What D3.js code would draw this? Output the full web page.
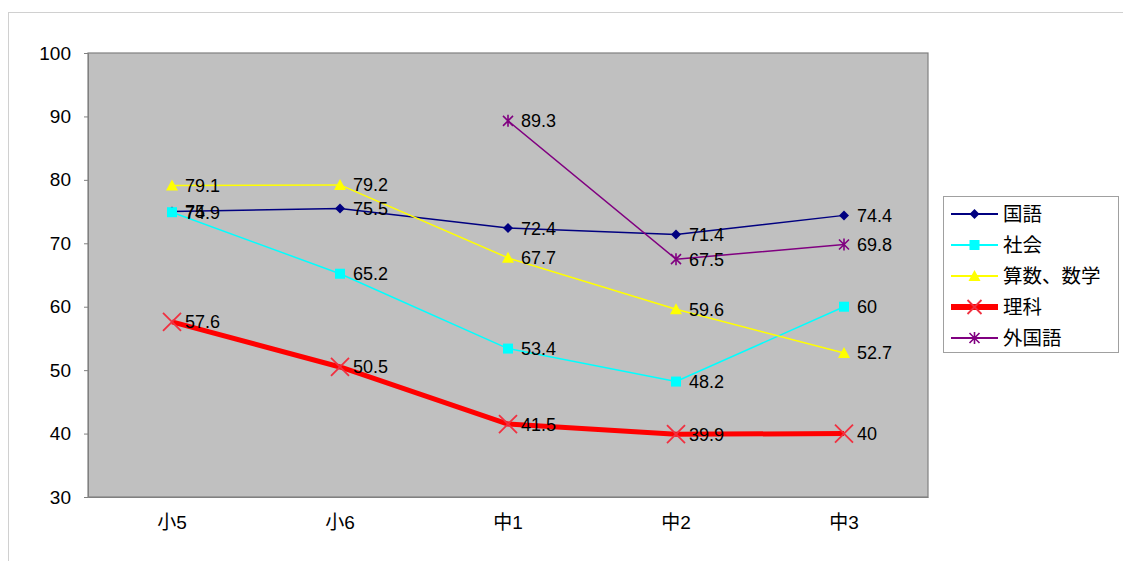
<!DOCTYPE html>
<html><head><meta charset="utf-8">
<script src="https://cdn.jsdelivr.net/npm/d3@7"></script>
<style>
html,body{margin:0;padding:0;background:#fff;}
svg{display:block;}
text{font-family:"Liberation Sans","Noto Sans CJK JP",sans-serif;fill:#000;}
</style></head>
<body>
<svg id="chart" width="1123" height="561"></svg>
<script>
// Grades and subject averages
const grades = ["小5", "小6", "中1", "中2", "中3"];
const kokugo = [75, 75.5, 72.4, 71.4, 74.4];
const shakai = [74.9, 65.2, 53.4, 48.2, 60];
const sansu = [79.1, 79.2, 67.7, 59.6, 52.7];
const rika = [57.6, 50.5, 41.5, 39.9, 40];
const gaikokugo = [null, null, 89.3, 67.5, 69.8];
const yTicks = [30, 40, 50, 60, 70, 80, 90, 100];

const series = [
  { name: "国語", values: kokugo, color: "#000080", width: 1.5, marker: "diamond" },
  { name: "社会", values: shakai, color: "#00ffff", width: 1.5, marker: "square" },
  { name: "算数、数学", values: sansu, color: "#ffff00", width: 1.5, marker: "triangle" },
  { name: "理科", values: rika, color: "#ff0000", width: 5, marker: "x" },
  { name: "外国語", values: gaikokugo, color: "#800080", width: 1.5, marker: "star" }
];

const svg = d3.select("#chart");
const plot = { left: 88, top: 53, right: 928, bottom: 497 };

// outer chart frame
svg.append("rect").attr("x", 8.5).attr("y", 12.5).attr("width", 1125).attr("height", 560)
  .attr("fill", "#fff").attr("stroke", "#d0d0d0").attr("stroke-width", 1);

const x = d3.scaleBand().domain(grades).range([plot.left, plot.right]);
const y = d3.scaleLinear().domain([30, 100]).range([plot.bottom, plot.top]);
const cx = g => x(g) + x.bandwidth() / 2;

// plot area
svg.append("rect").attr("x", plot.left).attr("y", plot.top)
  .attr("width", plot.right - plot.left).attr("height", plot.bottom - plot.top)
  .attr("fill", "#c0c0c0").attr("stroke", "#808080").attr("stroke-width", 1.2);

// axes
const yAxis = svg.append("g").attr("transform", `translate(${plot.left},0)`)
  .call(d3.axisLeft(y).tickValues(yTicks).tickSize(4).tickPadding(13));
yAxis.select(".domain").attr("stroke", "#808080");
yAxis.selectAll(".tick line").attr("stroke", "#808080");
yAxis.selectAll("text").attr("font-size", 19).attr("fill", "#000");

const xAxis = svg.append("g").attr("transform", `translate(0,${plot.bottom})`)
  .call(d3.axisBottom(x).tickSize(0).tickPadding(19));
xAxis.select(".domain").attr("stroke", "#808080");
xAxis.selectAll("text").attr("font-size", 19).attr("fill", "#000")
  .attr("font-family", "'Noto Sans CJK JP','Liberation Sans',sans-serif");

function drawMarker(g, type, color, px, py, s) {
  if (type === "diamond") {
    g.append("path").attr("d", `M${px},${py - 5}L${px + 5},${py}L${px},${py + 5}L${px - 5},${py}Z`).attr("fill", color);
  } else if (type === "square") {
    g.append("rect").attr("x", px - 5).attr("y", py - 5).attr("width", 10).attr("height", 10).attr("fill", color);
  } else if (type === "triangle") {
    g.append("path").attr("d", `M${px},${py - 6}L${px + 6},${py + 5}L${px - 6},${py + 5}Z`).attr("fill", color);
  } else if (type === "x") {
    const r = s || 9;
    g.append("path").attr("d", `M${px - r},${py - r}L${px + r},${py + r}M${px - r},${py + r}L${px + r},${py - r}`)
      .attr("stroke", "#f03040").attr("stroke-width", 1.8).attr("fill", "none");
  } else if (type === "star") {
    const r = 5;
    g.append("path").attr("d", `M${px - r},${py - r}L${px + r},${py + r}M${px - r},${py + r}L${px + r},${py - r}M${px},${py - r - 1}L${px},${py + r + 1}`)
      .attr("stroke", color).attr("stroke-width", 1.6).attr("fill", "none");
  }
}

const line = d3.line().defined(d => d.v != null).x(d => cx(d.g)).y(d => y(d.v));

series.forEach(s => {
  const pts = grades.map((g, i) => ({ g, v: s.values[i] }));
  svg.append("path").datum(pts).attr("d", line)
    .attr("fill", "none").attr("stroke", s.color).attr("stroke-width", s.width).attr("stroke-linejoin", "round");
});
series.forEach(s => {
  const g = svg.append("g");
  grades.forEach((gr, i) => {
    const v = s.values[i];
    if (v == null) return;
    drawMarker(g, s.marker, s.color, cx(gr), y(v));
  });
});
// value labels
series.forEach(s => {
  grades.forEach((gr, i) => {
    const v = s.values[i];
    if (v == null) return;
    svg.append("text").attr("x", cx(gr) + 13).attr("y", y(v)).attr("dy", "0.36em")
      .attr("font-size", 18).text(v);
  });
});

// legend
const lg = svg.append("g");
lg.append("rect").attr("x", 943.5).attr("y", 196.5).attr("width", 175).attr("height", 156)
  .attr("fill", "#fff").attr("stroke", "#a0a0a0").attr("stroke-width", 1);
series.forEach((s, i) => {
  const ly = 214 + i * 31;
  lg.append("line").attr("x1", 951).attr("x2", 998).attr("y1", ly).attr("y2", ly)
    .attr("stroke", s.color).attr("stroke-width", s.width === 5 ? 6 : 2);
  drawMarker(lg, s.marker, s.color, 974.5, ly, 7);
  lg.append("text").attr("x", 1003).attr("y", ly).attr("dy", "0.36em")
    .attr("font-size", 19.5).attr("font-family", "'Noto Sans CJK JP',sans-serif").text(s.name);
});
</script>
</body></html>
